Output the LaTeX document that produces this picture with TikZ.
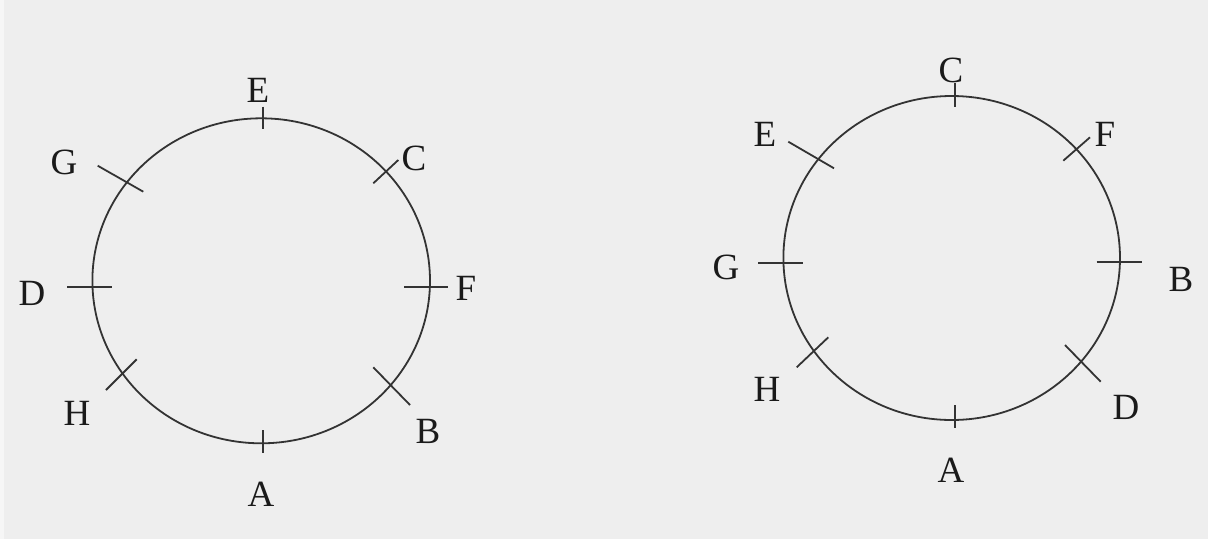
\documentclass[tikz,border=0pt]{standalone}
\usepackage{fontspec}
\setmainfont{Liberation Serif}
\definecolor{bggray}{HTML}{EEEEEE}
\definecolor{edgegray}{HTML}{F6F6F6}
\definecolor{linegray}{HTML}{333333}
\definecolor{textblack}{HTML}{1A1A1A}
\tikzset{
  ring/.style={draw=linegray, line width=1.8pt},
  tickmark/.style={draw=linegray, line width=1.8pt},
  lbl/.style={anchor=base, inner sep=0pt, text=textblack, font=\fontsize{37}{40}\selectfont}
}
\begin{document}
\begin{tikzpicture}[x=1pt, y=-1pt]
\useasboundingbox (0,0) rectangle (1208,539);
\fill[bggray] (0,0) rectangle (1208,539);
\fill[edgegray] (0,0) rectangle (4,539);

% ---------- left circle ----------
\draw[ring] (261.2,280.8) ellipse [x radius=168.8, y radius=162.5];
\draw[tickmark] (263,106.7) -- (263,129.3);       % E
\draw[tickmark] (97.7,165.7) -- (143.3,191.7);    % G
\draw[tickmark] (67,287) -- (112,287);            % D
\draw[tickmark] (373.3,183.3) -- (398.3,160);     % C
\draw[tickmark] (404,287) -- (448,287);           % F
\draw[tickmark] (106,390) -- (136.7,359.3);       % H
\draw[tickmark] (373.3,367.3) -- (410,405);       % B
\draw[tickmark] (263,430) -- (263,452.7);         % A

\node[lbl] (lE) at (258,102.7) {E};
\node[lbl] (lG) at (64,174.5) {G};
\node[lbl] (lD) at (32,305) {D};
\node[lbl] (lC) at (414,170.3) {C};
\node[lbl] (lF) at (466,300) {F};
\node[lbl] (lH) at (77,425) {H};
\node[lbl] (lB) at (428,443.3) {B};
\node[lbl] (lA) at (261,506) {A};

% ---------- right circle ----------
\draw[ring] (951.7,258) ellipse [x radius=168.3, y radius=162];
\draw[tickmark] (955,83) -- (955,106.7);          % C
\draw[tickmark] (788.3,141.7) -- (834,168.3);     % E
\draw[tickmark] (758.3,262.7) -- (802.7,262.7);   % G
\draw[tickmark] (1063.3,160.7) -- (1090,137.3);   % F
\draw[tickmark] (1096.7,261.7) -- (1141.7,261.7); % B
\draw[tickmark] (796.7,367.3) -- (828.3,337.3);   % H
\draw[tickmark] (1065,345) -- (1100.7,381.7);     % D
\draw[tickmark] (955,405) -- (955,428.3);         % A

\node[lbl] (rC) at (951,82.7) {C};
\node[lbl] (rE) at (765,146.7) {E};
\node[lbl] (rG) at (726,279.7) {G};
\node[lbl] (rF) at (1105,146.7) {F};
\node[lbl] (rB) at (1181,291.7) {B};
\node[lbl] (rH) at (767,401.7) {H};
\node[lbl] (rD) at (1126,419.3) {D};
\node[lbl] (rA) at (951,482.7) {A};
\end{tikzpicture}
\end{document}
